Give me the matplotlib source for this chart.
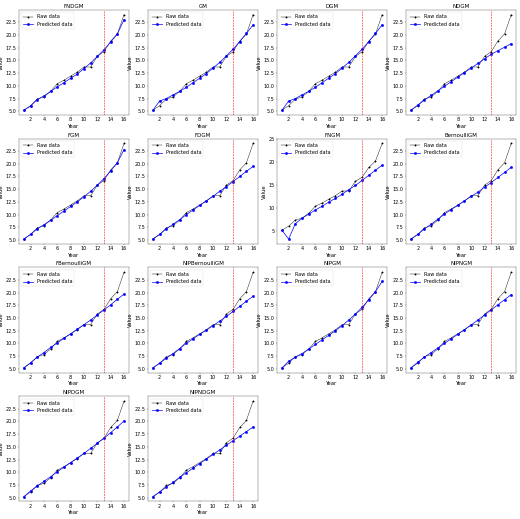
import numpy as np
import matplotlib; matplotlib.use("Agg"); import matplotlib.pyplot as plt

years = list(range(1, 17))
raw = [5.2, 6.1, 7.4, 7.8, 8.9, 10.4, 11.1, 11.9, 12.7, 13.7, 13.7, 15.8, 16.7, 18.8, 20.2, 24.0]

MODELS = [
    ("FNDGM", [5.2, 6.0, 7.3, 8.0, 8.9, 9.8, 10.6, 11.5, 12.3, 13.4, 14.5, 15.8, 17.1, 18.6, 20.2, 23.0]),
    ("GM", [5.2, 7.0, 7.5, 8.2, 8.9, 9.7, 10.6, 11.5, 12.4, 13.5, 14.6, 15.9, 17.2, 18.7, 20.3, 22.0]),
    ("DGM", [5.2, 7.0, 7.5, 8.2, 8.9, 9.7, 10.6, 11.5, 12.4, 13.5, 14.6, 15.9, 17.2, 18.7, 20.3, 22.0]),
    ("NDGM", [5.2, 6.2, 7.2, 8.1, 9.0, 9.9, 10.8, 11.7, 12.6, 13.5, 14.4, 15.3, 16.2, 16.9, 17.6, 18.3]),
    ("FGM", [5.2, 6.1, 7.2, 8.0, 8.9, 9.8, 10.7, 11.6, 12.5, 13.5, 14.6, 15.8, 17.1, 18.6, 20.2, 22.8]),
    ("FDGM", [5.2, 6.1, 7.2, 8.1, 9.0, 10.0, 10.9, 11.8, 12.7, 13.6, 14.6, 15.5, 16.5, 17.5, 18.5, 19.5]),
    ("FNGM", [5.2, 3.3, 6.6, 7.8, 8.7, 9.6, 10.4, 11.3, 12.1, 13.0, 14.0, 14.9, 16.0, 17.1, 18.2, 19.3]),
    ("BernoulliGM", [5.2, 6.1, 7.2, 8.1, 9.1, 10.1, 11.0, 11.8, 12.7, 13.6, 14.4, 15.4, 16.3, 17.3, 18.3, 19.3]),
    ("FBernoulliGM", [5.2, 6.2, 7.3, 8.2, 9.2, 10.1, 11.0, 11.9, 12.8, 13.7, 14.6, 15.6, 16.6, 17.6, 18.7, 19.7]),
    ("NIPBernoulliGM", [5.2, 6.1, 7.1, 8.0, 9.0, 10.0, 10.9, 11.8, 12.6, 13.5, 14.4, 15.3, 16.3, 17.3, 18.3, 19.3]),
    ("NIPGM", [5.2, 6.5, 7.3, 8.0, 8.9, 9.8, 10.7, 11.6, 12.5, 13.5, 14.6, 15.8, 17.1, 18.6, 20.2, 22.2]),
    ("NIPNGM", [5.2, 6.3, 7.3, 8.2, 9.1, 10.0, 10.9, 11.8, 12.7, 13.6, 14.6, 15.6, 16.6, 17.6, 18.6, 19.6]),
    ("NIPDGM", [5.2, 6.3, 7.3, 8.2, 9.1, 10.1, 11.0, 11.9, 12.8, 13.7, 14.7, 15.7, 16.7, 17.8, 18.9, 20.1]),
    ("NIPNDGM", [5.2, 6.1, 7.1, 8.0, 9.0, 9.9, 10.8, 11.7, 12.6, 13.5, 14.4, 15.3, 16.2, 17.1, 18.0, 18.9]),
]
SPLIT = 13

fig, axes = plt.subplots(4, 4, figsize=(20.8, 20.76), dpi=25)
for ax, (name, pred) in zip(axes.flat, MODELS):
    ax.plot(years, raw, "k-", marker="o", ms=4, lw=1.2, label="Raw data")
    ax.plot(years, pred, "b-", marker="o", ms=7, lw=2, label="Predicted data")
    ax.axvline(SPLIT, color="red", ls="--", lw=1.5)
    ax.set_title(name, fontsize=16)
    ax.set_xlabel("Year", fontsize=15)
    ax.set_ylabel("Value", fontsize=15)
    ax.set_xticks([2, 4, 6, 8, 10, 12, 14, 16])
    ax.tick_params(labelsize=14)
    ax.legend(loc="upper left", fontsize=14)
for ax in axes.flat[len(MODELS):]:
    ax.axis("off")
fig.tight_layout()
fig.savefig("out.png", dpi=25)
